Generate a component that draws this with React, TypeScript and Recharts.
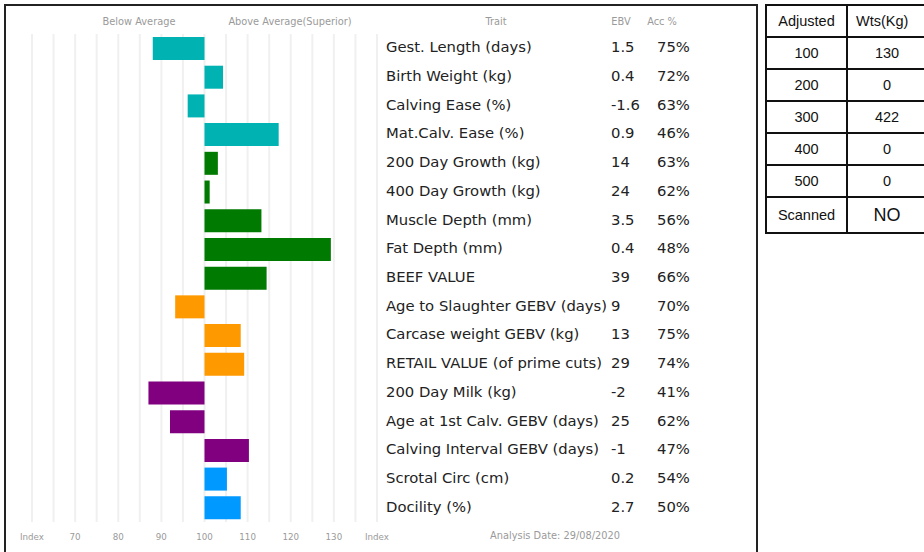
import React from 'react';
import { BarChart, Bar, Cell, XAxis, YAxis, CartesianGrid } from 'recharts';

// ---- data ----
const traits = [
  'Gest. Length (days)',
  'Birth Weight (kg)',
  'Calving Ease (%)',
  'Mat.Calv. Ease (%)',
  '200 Day Growth (kg)',
  '400 Day Growth (kg)',
  'Muscle Depth (mm)',
  'Fat Depth (mm)',
  'BEEF VALUE',
  'Age to Slaughter GEBV (days)',
  'Carcase weight GEBV (kg)',
  'RETAIL VALUE (of prime cuts)',
  '200 Day Milk (kg)',
  'Age at 1st Calv. GEBV (days)',
  'Calving Interval GEBV (days)',
  'Scrotal Circ (cm)',
  'Docility (%)',
];
const ebvs = ['1.5', '0.4', '-1.6', '0.9', '14', '24', '3.5', '0.4', '39', '9', '13', '29', '-2', '25', '-1', '0.2', '2.7'];
const accs = ['75%', '72%', '63%', '46%', '63%', '62%', '56%', '48%', '66%', '70%', '75%', '74%', '41%', '62%', '47%', '54%', '50%'];
const indexValues = [88, 104.3, 96.1, 117.2, 103.1, 101.2, 113.2, 129.3, 114.4, 93.2, 108.4, 109.2, 87, 92, 110.3, 105.2, 108.4];
const groups = [
  'calving', 'calving', 'calving', 'calving',
  'growth', 'growth', 'growth', 'growth', 'growth',
  'carcase', 'carcase', 'carcase',
  'maternal', 'maternal', 'maternal',
  'fertility', 'fertility',
];

const gridTicks = [60, 65, 70, 75, 80, 85, 90, 95, 100, 105, 110, 115, 120, 125, 130, 135, 140];
const tickLabels: Record<number, string> = {
  60: 'Index', 70: '70', 80: '80', 90: '90', 100: '100', 110: '110', 120: '120', 130: '130', 140: 'Index',
};

const adjustedRows = [
  ['100', '130'],
  ['200', '0'],
  ['300', '422'],
  ['400', '0'],
  ['500', '0'],
];

const GROUP_COLORS: Record<string, string> = {
  calving: '#00B2B2',
  growth: '#007A00',
  carcase: '#FF9900',
  maternal: '#800080',
  fertility: '#0099FF',
};

const BASE = 100;
const CHART_W = 757;
const CHART_H = 552;
const FONT = '"DejaVu Sans", "Noto Sans", sans-serif';

const data = traits.map((trait, i) => ({
  trait,
  range: [Math.min(BASE, indexValues[i]), Math.max(BASE, indexValues[i])],
  group: groups[i],
}));

const IndexTick = (props: any) => {
  const { x, payload } = props;
  const label = tickLabels[payload.value];
  if (!label) return null;
  return (
    <text x={x} y={CHART_H - 15} textAnchor="middle" dominantBaseline="central"
      fontSize={8.7} fill="#9a9a9a" fontFamily={FONT}>
      {label}
    </text>
  );
};

const TraitTick = (props: any) => {
  const { x, y, payload } = props;
  const i = payload.index;
  const common = { y: y - 1.5, dominantBaseline: 'central' as const, fontSize: 14.8, fill: '#222', fontFamily: FONT };
  return (
    <g>
      <text x={x} {...common}>{traits[i]}</text>
      <text x={x + 225} {...common}>{ebvs[i]}</text>
      <text x={x + 271} {...common}>{accs[i]}</text>
    </g>
  );
};

const headStyle: React.CSSProperties = {
  position: 'absolute',
  top: 16,
  fontSize: 9.8,
  color: '#9a9a9a',
  fontFamily: FONT,
  transform: 'translateX(-50%)',
  whiteSpace: 'nowrap',
};

const cellStyle: React.CSSProperties = {
  border: '2px solid #111',
  height: 30,
  textAlign: 'center',
  padding: 0,
  fontSize: 14.5,
  fontFamily: '"Liberation Sans", Arial, sans-serif',
  color: '#111',
};

export default function App() {
  return (
    <div style={{ position: 'absolute', left: 0, top: 0, width: 924, height: 552, overflow: 'hidden', background: '#fff' }}>
      <div style={{ position: 'absolute', left: 4, top: 4, width: 750, height: 600, border: '2px solid #222' }} />

      <div style={{ ...headStyle, left: 139 }}>Below Average</div>
      <div style={{ ...headStyle, left: 290 }}>Above Average(Superior)</div>
      <div style={{ ...headStyle, left: 496 }}>Trait</div>
      <div style={{ ...headStyle, left: 621 }}>EBV</div>
      <div style={{ ...headStyle, left: 662 }}>Acc %</div>
      <div style={{ ...headStyle, top: 530, left: 555 }}>Analysis Date: 29/08/2020</div>

      <div style={{ position: 'absolute', left: 0, top: 0 }}>
        <BarChart
          width={CHART_W}
          height={CHART_H}
          data={data}
          layout="vertical"
          margin={{ top: 34, right: 10, bottom: 0, left: 32 }}
          barCategoryGap={3}
        >
          <CartesianGrid horizontal={false} stroke="#f0f0f0" strokeWidth={2} />
          <XAxis
            type="number"
            domain={[60, 140]}
            ticks={gridTicks}
            interval={0}
            height={30}
            axisLine={false}
            tickLine={false}
            tick={<IndexTick />}
          />
          <YAxis
            type="category"
            dataKey="trait"
            orientation="right"
            width={370}
            axisLine={false}
            tickLine={false}
            tickSize={0}
            tickMargin={9}
            interval={0}
            tick={<TraitTick />}
          />
          <Bar dataKey="range" isAnimationActive={false}>
            {data.map((d, i) => (
              <Cell key={i} fill={GROUP_COLORS[d.group]} />
            ))}
          </Bar>
        </BarChart>
      </div>

      <table style={{ position: 'absolute', left: 765, top: 4, borderCollapse: 'collapse', width: 190 }}>
        <tbody>
          <tr>
            <td style={{ ...cellStyle, width: 79 }}>Adjusted</td>
            <td style={{ ...cellStyle, textAlign: 'left', paddingLeft: 8 }}>Wts(Kg)</td>
          </tr>
          {adjustedRows.map((r) => (
            <tr key={r[0]}>
              <td style={cellStyle}>{r[0]}</td>
              <td style={{ ...cellStyle, textAlign: 'left', paddingLeft: 9 }}>
                <span style={{ display: 'inline-block', width: 60, textAlign: 'center' }}>{r[1]}</span>
              </td>
            </tr>
          ))}
          <tr>
            <td style={{ ...cellStyle, height: 34 }}>Scanned</td>
            <td style={{ ...cellStyle, height: 34, fontSize: 18, textAlign: 'left', paddingLeft: 9 }}>
              <span style={{ display: 'inline-block', width: 60, textAlign: 'center' }}>NO</span>
            </td>
          </tr>
        </tbody>
      </table>
    </div>
  );
}
